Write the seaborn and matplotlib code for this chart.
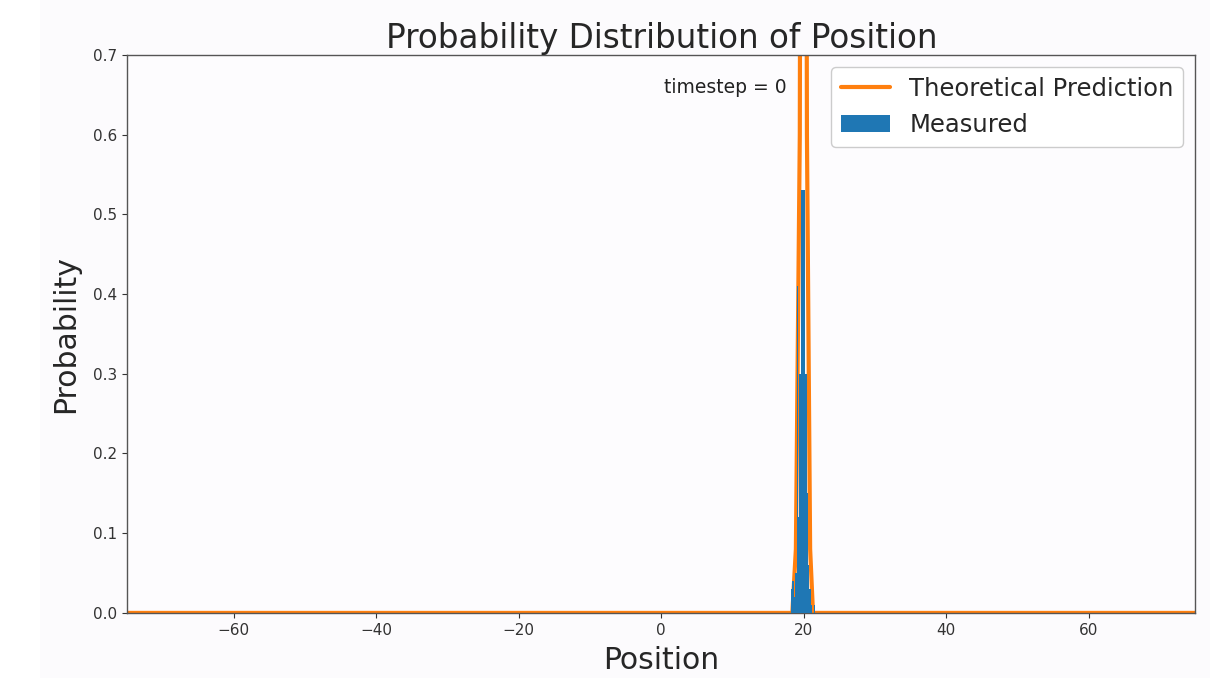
import numpy as np
import pandas as pd
import matplotlib
matplotlib.use("Agg")
import matplotlib.pyplot as plt
import seaborn as sns

# Theoretical probability curve (sampled positions and values)
theory_x = [-75.0, 18.4, 18.9, 19.45, 19.95, 20.45, 20.9, 21.3, 75.0]
theory_p = [0.0, 0.0, 0.08, 0.6, 3.0, 0.6, 0.08, 0.0, 0.0]

# Measured histogram: bin centres and probabilities
meas_x = [18.3, 18.5, 18.7, 18.9, 19.1, 19.3, 19.5, 19.7, 19.9, 20.1,
          20.3, 20.5, 20.7, 20.9, 21.1, 21.3, 21.5]
meas_p = [0.03, 0.04, 0.02, 0.05, 0.41, 0.12, 0.30, 0.53, 0.53, 0.53,
          0.30, 0.15, 0.06, 0.03, 0.01, 0.00, 0.01]
bin_width = 0.2

x_ticks = [-60, -40, -20, 0, 20, 40, 60]
y_ticks = [0.0, 0.1, 0.2, 0.3, 0.4, 0.5, 0.6, 0.7]

sns.set_style("ticks")
plt.rcParams["font.family"] = ["DejaVu Sans"]

fig = plt.figure(figsize=(12.1, 6.78), dpi=100, facecolor="#fcfbfd")
# white margin strip on the left of the canvas
fig.patches.append(plt.Rectangle((0, 0), 40 / 1210, 1, transform=fig.transFigure,
                                 facecolor="white", edgecolor="none", zorder=-1))
ax = fig.add_axes([0.105, 0.096, 0.883, 0.823])
ax.set_facecolor("#fdfcfe")

theory = pd.DataFrame({"x": theory_x, "p": theory_p})
sns.lineplot(data=theory, x="x", y="p", color="#ff7f0e", linewidth=3.0,
             ax=ax, label="Theoretical Prediction", zorder=2)

meas = pd.DataFrame({"x": meas_x, "p": meas_p})
lo = meas_x[0] - bin_width / 2
hi = meas_x[-1] + bin_width / 2
sns.histplot(data=meas, x="x", weights="p", binwidth=bin_width,
             binrange=(lo, hi), stat="count",
             color="#1f77b4", alpha=1.0, edgecolor="none", linewidth=0,
             ax=ax, label="Measured", zorder=3)

ax.set_xlim(-75, 75)
ax.set_ylim(0, 0.7)
ax.set_xticks(x_ticks)
ax.set_xticklabels([f"\u2212{abs(t)}" if t < 0 else str(t) for t in x_ticks])
ax.set_yticks(y_ticks)
ax.set_yticklabels([f"{t:.1f}" for t in y_ticks])
ax.tick_params(labelsize=11, colors="#333333")

for s in ax.spines.values():
    s.set_visible(True)
    s.set_color("#555555")
    s.set_linewidth(1.0)

ax.set_title("Probability Distribution of Position", fontsize=23.5, pad=3)
ax.set_xlabel("Position", fontsize=21.5, labelpad=6)
ax.set_ylabel("Probability", fontsize=21.5, labelpad=9)

ax.text(17.6, 0.659, "timestep = 0", ha="right", va="center", fontsize=13.5,
        color="#222222")

handles, labels = ax.get_legend_handles_labels()
order = [labels.index("Theoretical Prediction"), labels.index("Measured")]
ax.legend([handles[i] for i in order], [labels[i] for i in order],
          loc="upper right", fontsize=17.5, frameon=True, framealpha=1.0,
          borderaxespad=0.5)

fig.savefig("out.png", dpi=100, facecolor=fig.get_facecolor())
